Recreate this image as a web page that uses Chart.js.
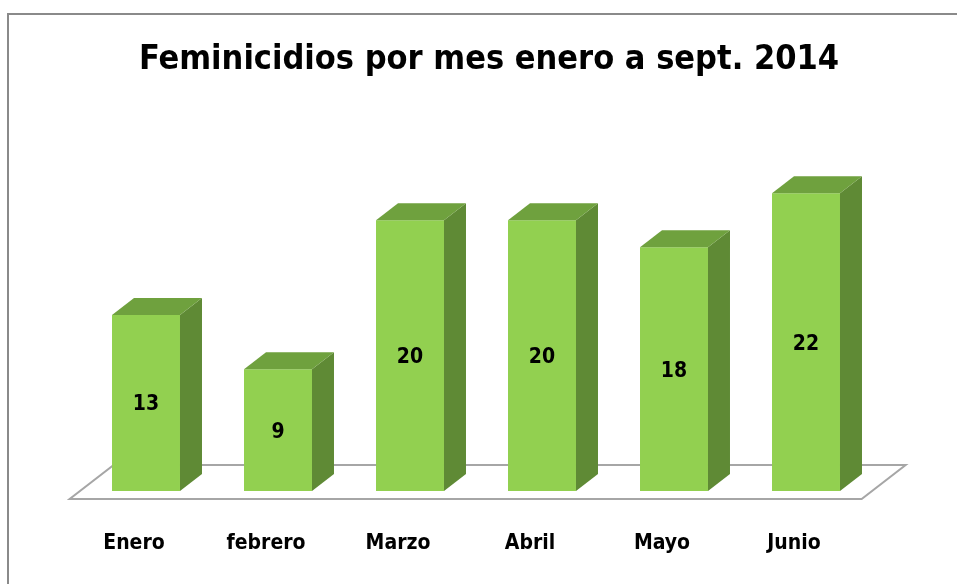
<!DOCTYPE html>
<html>
<head>
<meta charset="utf-8">
<script src="https://cdn.jsdelivr.net/npm/chart.js@4"></script>
<style>
  html, body { margin: 0; padding: 0; background: #fff; overflow: hidden; }
  #wrap { width: 957px; height: 584px; position: relative; }
</style>
</head>
<body>
<div id="wrap"><canvas id="chart" width="957" height="584"></canvas></div>
<script>
// data
const months = ['Enero', 'febrero', 'Marzo', 'Abril', 'Mayo', 'Junio'];
const feminicidios = [13, 9, 20, 20, 18, 22];
const chartTitle = 'Feminicidios por mes enero a sept. 2014';

const FONT = "'Liberation Sans Narrow', 'DejaVu Sans Condensed', 'Noto Sans', sans-serif";
const DEPTH_X = 22, DEPTH_Y = -17;

// frame around the whole picture, and the title centred on the frame
const framePlugin = {
  id: 'frame',
  beforeDraw(chart) {
    const ctx = chart.ctx;
    ctx.save();
    ctx.fillStyle = '#fff';
    ctx.fillRect(0, 0, chart.width, chart.height);
    ctx.strokeStyle = '#8a8a8a';
    ctx.lineWidth = 2;
    ctx.strokeRect(8, 14, 1000, 1000);
    ctx.fillStyle = '#000';
    ctx.font = 'bold 34px ' + FONT;
    ctx.textAlign = 'center';
    ctx.textBaseline = 'middle';
    ctx.fillText(chartTitle, 489, 60);
    ctx.restore();
  }
};

// the floor under the bars
const floorPlugin = {
  id: 'floor',
  beforeDatasetsDraw(chart) {
    const { ctx, chartArea } = chart;
    const base = chart.scales.y.getPixelForValue(0);
    const f = -0.47, b = 1.53;
    ctx.save();
    ctx.beginPath();
    ctx.moveTo(chartArea.left + f * DEPTH_X, base + f * DEPTH_Y);
    ctx.lineTo(chartArea.right + f * DEPTH_X, base + f * DEPTH_Y);
    ctx.lineTo(chartArea.right + b * DEPTH_X, base + b * DEPTH_Y);
    ctx.lineTo(chartArea.left + b * DEPTH_X, base + b * DEPTH_Y);
    ctx.closePath();
    ctx.fillStyle = '#fff';
    ctx.fill();
    ctx.strokeStyle = '#a6a6a6';
    ctx.lineWidth = 2;
    ctx.stroke();
    ctx.restore();
  }
};

// side and top faces plus value labels
const barsPlugin = {
  id: 'bars3d',
  afterDatasetsDraw(chart) {
    const ctx = chart.ctx;
    const meta = chart.getDatasetMeta(0);
    ctx.save();
    meta.data.forEach((bar, i) => {
      const { x, y, base, width } = bar.getProps(['x', 'y', 'base', 'width'], true);
      const l = x - width / 2, r = x + width / 2;
      // side
      ctx.beginPath();
      ctx.moveTo(r, y);
      ctx.lineTo(r + DEPTH_X, y + DEPTH_Y);
      ctx.lineTo(r + DEPTH_X, base + DEPTH_Y);
      ctx.lineTo(r, base);
      ctx.closePath();
      ctx.fillStyle = '#5f8a35';
      ctx.fill();
      // top
      ctx.beginPath();
      ctx.moveTo(l, y);
      ctx.lineTo(l + DEPTH_X, y + DEPTH_Y);
      ctx.lineTo(r + DEPTH_X, y + DEPTH_Y);
      ctx.lineTo(r, y);
      ctx.closePath();
      ctx.fillStyle = '#6fa13e';
      ctx.fill();
      // label
      ctx.fillStyle = '#000';
      ctx.font = 'bold 21px ' + FONT;
      ctx.textAlign = 'center';
      ctx.textBaseline = 'middle';
      ctx.fillText(String(feminicidios[i]), x, (y + base) / 2 + 2);
    });
    ctx.restore();
  }
};

new Chart(document.getElementById('chart'), {
  type: 'bar',
  data: {
    labels: months,
    datasets: [{
      data: feminicidios,
      backgroundColor: '#92d050',
      borderWidth: 0,
      barPercentage: 0.515,
      categoryPercentage: 1
    }]
  },
  options: {
    responsive: false,
    animation: false,
    layout: { padding: { left: 80, right: 85, top: 112, bottom: 29 } },
    plugins: {
      legend: { display: false },
      tooltip: { enabled: false },
      title: { display: false }
    },
    scales: {
      x: {
        grid: { display: false, drawTicks: false },
        border: { display: false },
        afterFit(scale) { scale.height = 64; },
        ticks: {
          color: '#000',
          padding: 40,
          labelOffset: -12,
          font: { family: FONT, size: 21, weight: 'bold' }
        }
      },
      y: {
        display: false,
        min: 0,
        max: 28
      }
    }
  },
  plugins: [framePlugin, floorPlugin, barsPlugin]
});
</script>
</body>
</html>
